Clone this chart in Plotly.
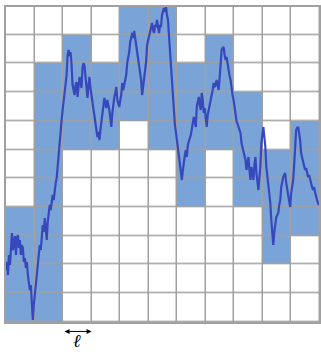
import plotly.graph_objects as go

# box size (cell edge) in the chart's value units
ELL = 28.7

# filled boxes, rows listed top to bottom, columns left to right (1 = covered by the path)
FILLED_TOP_DOWN = [
    [0, 0, 0, 0, 1, 1, 0, 0, 0, 0, 0],
    [0, 0, 1, 0, 1, 1, 0, 1, 0, 0, 0],
    [0, 1, 1, 1, 1, 1, 1, 1, 0, 0, 0],
    [0, 1, 1, 1, 1, 1, 1, 1, 1, 0, 0],
    [0, 1, 1, 1, 0, 1, 1, 1, 1, 0, 1],
    [0, 1, 0, 0, 0, 0, 1, 0, 1, 1, 1],
    [0, 1, 0, 0, 0, 0, 1, 0, 1, 1, 1],
    [1, 1, 0, 0, 0, 0, 0, 0, 0, 1, 1],
    [1, 1, 0, 0, 0, 0, 0, 0, 0, 1, 0],
    [1, 1, 0, 0, 0, 0, 0, 0, 0, 0, 0],
    [1, 1, 0, 0, 0, 0, 0, 0, 0, 0, 0],
]

# path values (evenly spaced samples)
PATH = [
    52, 60, 47, 67, 57, 77, 89, 72, 82, 86, 67, 84, 87, 74, 82, 67, 77, 74, 60, 64,
    54, 60, 47, 40, 32, 37, 22, 2, 17, 27, 37, 42, 54, 67, 77, 72, 87, 97, 90, 104,
    94, 82, 100, 110, 117, 112, 124, 127, 122, 134, 139, 144, 157, 172, 180, 190, 202, 212, 222, 225,
    237, 247, 267, 272, 266, 270, 257, 237, 232, 227, 237, 240, 225, 234, 245, 240, 234, 254, 259, 256,
    242, 234, 224, 237, 245, 234, 227, 219, 210, 202, 197, 190, 185, 190, 182, 192, 199, 210, 214, 224,
    218, 214, 222, 218, 212, 204, 195, 209, 218, 225, 229, 235, 222, 218, 215, 222, 227, 239, 232, 237,
    242, 247, 259, 264, 270, 280, 286, 289, 284, 291, 284, 277, 270, 262, 254, 250, 242, 227, 234, 242,
    250, 260, 277, 282, 286, 290, 294, 299, 292, 289, 297, 295, 302, 294, 289, 297, 295, 307, 312, 314,
    310, 315, 307, 302, 287, 272, 255, 234, 222, 214, 197, 190, 182, 174, 169, 160, 155, 142, 152, 162,
    167, 172, 165, 177, 182, 184, 187, 192, 197, 205, 200, 195, 215, 222, 225, 217, 212, 229, 222, 209,
    214, 204, 195, 207, 212, 218, 222, 225, 232, 239, 235, 237, 242, 237, 232, 244, 255, 272, 274, 275,
    267, 262, 265, 257, 249, 246, 242, 232, 227, 222, 214, 209, 201, 198, 195, 192, 189, 179, 175, 172,
    167, 162, 152, 160, 165, 152, 142, 155, 147, 142, 157, 165, 149, 140, 132, 144, 155, 179, 190, 195,
    185, 175, 155, 147, 139, 129, 119, 102, 90, 77, 90, 99, 105, 107, 109, 117, 122, 135, 142, 145,
    147, 149, 139, 132, 125, 119, 115, 129, 134, 142, 157, 175, 192, 194, 195, 189, 182, 169, 165, 162,
    157, 152, 154, 150, 145, 147, 142, 139, 135, 132, 135, 130, 125, 122, 119, 117,
]

FILL_COLOR = "rgb(122,163,215)"
LINE_COLOR = "rgb(55,72,188)"
GRID_COLOR = "rgb(160,160,160)"

fig = go.Figure()

fig.add_trace(go.Heatmap(
    z=FILLED_TOP_DOWN[::-1],
    x0=ELL / 2, dx=ELL,
    y0=ELL / 2, dy=ELL,
    zmin=0, zmax=1,
    colorscale=[[0, "white"], [1, FILL_COLOR]],
    showscale=False,
    xgap=1.5, ygap=1.5,
    hoverinfo="skip",
))

fig.add_trace(go.Scatter(
    y=PATH, x0=0, dx=1,
    mode="lines",
    line=dict(color=LINE_COLOR, width=2.2),
    hoverinfo="skip",
))

# double-headed arrow showing the box size
fig.add_annotation(
    x=3 * ELL, y=-0.03, ax=2 * ELL, ay=0,
    xref="x", yref="paper", axref="x", ayref="pixel",
    text="", showarrow=True,
    arrowhead=2, startarrowhead=2, arrowside="end+start",
    arrowsize=1, startarrowsize=1, arrowwidth=1, arrowcolor="black",
)
fig.add_annotation(
    x=2.5 * ELL, y=-0.058, xref="x", yref="paper",
    xanchor="center", yanchor="middle",
    text="<i>ℓ</i>", showarrow=False,
    font=dict(family="DejaVu Serif", size=18, color="black"),
)

fig.update_layout(
    width=321, height=352,
    margin=dict(l=6, r=0, t=7, b=30),
    paper_bgcolor="white",
    plot_bgcolor=GRID_COLOR,
    showlegend=False,
)
fig.update_xaxes(range=[0, 315], showgrid=False, zeroline=False, showticklabels=False,
                 ticks="", showline=True, mirror=True, linecolor=GRID_COLOR, linewidth=1.5)
fig.update_yaxes(range=[0, 315], showgrid=False, zeroline=False, showticklabels=False,
                 ticks="", showline=True, mirror=True, linecolor=GRID_COLOR, linewidth=1.5)

fig.write_html("out.html")
